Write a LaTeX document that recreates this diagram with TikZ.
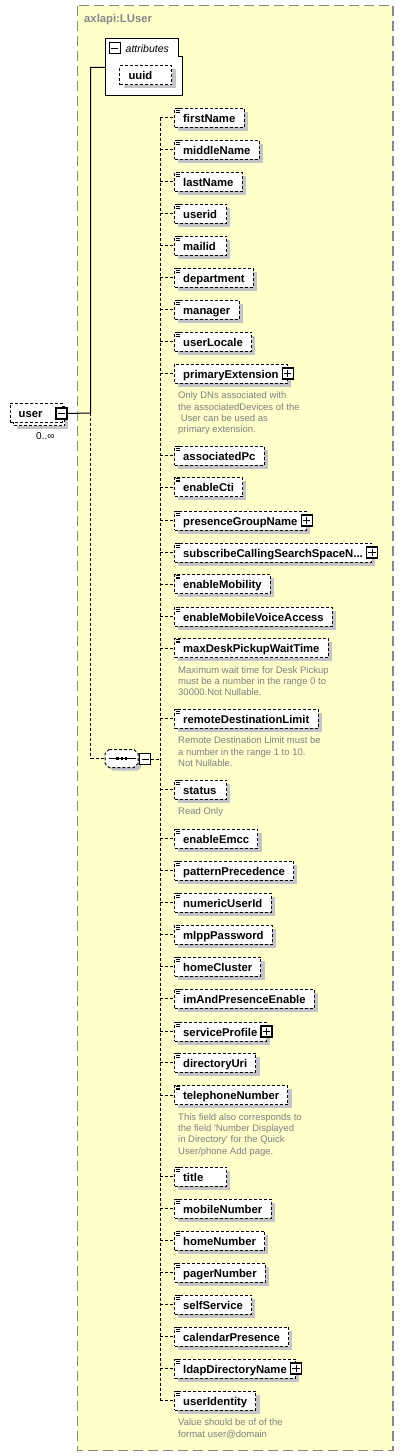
\documentclass[tikz,border=0pt]{standalone}
\usepackage{fontspec}
\setmainfont{Liberation Sans}
\newfontfamily\annfont{Liberation Sans}[Ligatures=TeXOff]
\usetikzlibrary{shadows}
\definecolor{bgyellow}{RGB}{255,255,204}
\definecolor{bordergray}{RGB}{136,136,136}
\definecolor{shadowc}{RGB}{196,196,200}
\definecolor{anngray}{RGB}{128,128,128}
\newcommand\minbox[1]{\setbox0\hbox{#1}\ifdim\wd0<34.6pt\hbox to 34.6pt{\box0\hfil}\else\box0\fi}
\tikzset{
  elembase/.style={draw=black, line width=1pt, dash pattern=on 3pt off 2pt, fill=white,
    minimum height=19pt, inner xsep=8.7pt, inner ysep=0pt,
    text height=9pt, text depth=0pt, anchor=west,
    font=\fontsize{11.3}{13}\selectfont\bfseries},
  elem/.style={elembase, general shadow={fill=shadowc, shadow xshift=3.7pt, shadow yshift=-3.7pt}},
  conn/.style={line width=1pt, dash pattern=on 3pt off 2pt},
  solidconn/.style={line width=1pt},
  ann/.style={anchor=north west, inner sep=0pt, align=left, text=anngray,
    font=\annfont\fontsize{9.5}{11.3}\selectfont},
  icon/.style={line width=0.8pt},
  boxbtn/.style={draw=black, fill=white, line width=1.1pt, minimum size=11pt, inner sep=0pt},
}
\newcommand\xicon[1]{\draw[icon] ([shift={(1.8,1.3)}]#1.north west) -- ++(4.5,0)
  ([shift={(1.8,3.0)}]#1.north west) -- ++(4.5,0)
  ([shift={(1.8,4.7)}]#1.north west) -- ++(4.5,0);}
\newcommand\pbtn[2]{\node[boxbtn] (#1) at (#2) {};
  \draw[line width=1pt] ([xshift=-3.6pt]#1.center) -- ([xshift=3.6pt]#1.center)
  ([yshift=-3.6pt]#1.center) -- ([yshift=3.6pt]#1.center);}
\newcommand\mbtn[2]{\node[boxbtn] (#1) at (#2) {};
  \draw[line width=1pt] ([xshift=-3.6pt]#1.center) -- ([xshift=3.6pt]#1.center);}
\newcommand\xel[3]{\node[elem] (#1) at (174,#2) {\minbox{#3}};
  \xicon{#1}
  \draw[conn] (#1.west -| bus) -- (#1.west);}
\newcommand\xelp[3]{\node[elem] (#1) at (174,#2) {#3\hspace{4pt}};
  \xicon{#1}
  \pbtn{#1-b}{#1.east}
  \draw[conn] (#1.west -| bus) -- (#1.west);}
\begin{document}
\begin{tikzpicture}[x=1pt,y=-1pt]
\useasboundingbox (0,0) rectangle (404,1456);
% container
\draw[bordergray, line width=1.5pt, dash pattern=on 10pt off 5pt, fill=bgyellow]
  (77.5,5.5) rectangle (393,1450.5);
\node[anchor=base west, inner sep=0pt, text=bordergray, font=\fontsize{11.3}{13}\selectfont\bfseries]
  (ctitle) at (84,23) {axlapi:LUser};
% junction coordinates
\coordinate (j1) at (90.7,413);
\coordinate (j2) at (90.7,67.3);
\coordinate (j3) at (90.7,758.5);
\coordinate (bus) at (160,117.5);
\coordinate (busend) at (160,1400.5);
% attributes box
\node[minimum width=77.4pt, minimum height=57.4pt, inner sep=0pt] (attrs) at (144,67) {};
\draw[line width=1pt, fill=white] (105.3,38.3) -- (178.3,38.3) -- (178.3,56.7) -- (182.7,56.7)
  -- (182.7,95.7) -- (105.3,95.7) -- cycle;
\mbtn{attrbtn}{114.7,48}
\node[anchor=base west, inner sep=0pt, font=\fontsize{10.5}{12}\selectfont\itshape] (attrlbl) at (125.5,52) {attributes};
\node[elem] (uuid) at (119.3,75) {\minbox{uuid}};
% user node
\fill[shadowc] (16.7,409.7) rectangle (68.2,429.2);
\draw[line width=1pt, dash pattern=on 3pt off 2pt, fill=white] (13,406) rectangle (64.5,425.5);
\node[elembase] (user) at (9.5,412.5) {\minbox{user}};
\mbtn{userbtn}{61.5,413.5}
\node[anchor=base west, inner sep=0pt, font=\fontsize{10}{12}\selectfont] (mult) at (36,439.5) {0..∞};
% main connectors
\draw[solidconn] (userbtn.east) -- (j1) -- (j2) -- (j2 -| attrs.west);
\draw[conn] (j1) -- (j3);
% sequence
\node[minimum width=33pt, minimum height=18pt, inner sep=0pt] (seq) at (121.5,758.5) {};
\fill[shadowc] (112.7,752.7) -- (137.7,752.7) -- (141.7,756.7) -- (141.7,766.7) -- (137.7,770.7)
  -- (112.7,770.7) -- (108.7,766.7) -- (108.7,756.7) -- cycle;
\draw[conn, fill=white] (109,749.5) -- (134,749.5) -- (138,753.5) -- (138,763.5) -- (134,767.5)
  -- (109,767.5) -- (105,763.5) -- (105,753.5) -- cycle;
\draw[line width=1pt] (108.5,758.5) -- (135.5,758.5);
\fill (116.4,757.2) rectangle ++(2.6,2.6);
\fill (120.6,757.2) rectangle ++(2.6,2.6);
\fill (124.8,757.2) rectangle ++(2.6,2.6);
\draw[conn] (j3) -- (seq.west);
\mbtn{seqbtn}{145.2,759}
\draw[conn] (seqbtn.east) -- (seqbtn.east -| bus);
\draw[conn] (bus) -- (busend);
% elements
\xel{firstName}{117.5}{firstName}
\xel{middleName}{149.5}{middleName}
\xel{lastName}{181.5}{lastName}
\xel{userid}{213.5}{userid}
\xel{mailid}{245.5}{mailid}
\xel{department}{277.5}{department}
\xel{manager}{309.5}{manager}
\xel{userLocale}{341.5}{userLocale}
\node[elem] (primaryExtension) at (174,373.5) {primaryExtension\hspace{4pt}};
\pbtn{primaryExtension-b}{primaryExtension.east}
\draw[conn] (primaryExtension.west -| bus) -- (primaryExtension.west);
\node[ann] (a-pe) at ([shift={(4,8.3)}]primaryExtension.south west)
  {Only DNs associated with\\the associatedDevices of the\\\hspace{2.6pt}User can be used as\\primary extension.};
\xel{associatedPc}{455.5}{associatedPc}
\xel{enableCti}{487}{enableCti}
\xelp{presenceGroupName}{520.5}{presenceGroupName}
\xelp{subscribeCSS}{552.5}{subscribeCallingSearchSpaceN...}
\xel{enableMobility}{584}{enableMobility}
\xel{enableMobileVoiceAccess}{616.5}{enableMobileVoiceAccess}
\xel{maxDeskPickupWaitTime}{648}{maxDeskPickupWaitTime}
\node[ann] (a-md) at ([shift={(4,8.3)}]maxDeskPickupWaitTime.south west)
  {Maximum wait time for Desk Pickup\\must be a number in the range 0 to\\30000.Not Nullable.};
\xel{remoteDestinationLimit}{718.5}{remoteDestinationLimit}
\node[ann] (a-rd) at ([shift={(4,8.3)}]remoteDestinationLimit.south west)
  {Remote Destination Limit must be\\a number in the range 1 to 10.\\Not Nullable.};
\xel{status}{789.5}{status}
\node[ann] (a-st) at ([shift={(4,8.3)}]status.south west) {Read Only};
\xel{enableEmcc}{838.5}{enableEmcc}
\xel{patternPrecedence}{870.5}{patternPrecedence}
\xel{numericUserId}{902.5}{numericUserId}
\xel{mlppPassword}{934.5}{mlppPassword}
\xel{homeCluster}{966.5}{homeCluster}
\xel{imAndPresenceEnable}{998.5}{imAndPresenceEnable}
\xelp{serviceProfile}{1031.5}{serviceProfile}
\xel{directoryUri}{1062.5}{directoryUri}
\xel{telephoneNumber}{1095}{telephoneNumber}
\node[ann] (a-tn) at ([shift={(4,8.3)}]telephoneNumber.south west)
  {This field also corresponds to\\the field 'Number Displayed\\in Directory' for the Quick\\User/phone Add page.};
\xel{title}{1176.5}{title}
\xel{mobileNumber}{1208.5}{mobileNumber}
\xel{homeNumber}{1240.5}{homeNumber}
\xel{pagerNumber}{1272.5}{pagerNumber}
\xel{selfService}{1304.5}{selfService}
\xel{calendarPresence}{1336.5}{calendarPresence}
\xelp{ldapDirectoryName}{1368.5}{ldapDirectoryName}
\xel{userIdentity}{1400.5}{userIdentity}
\node[ann] (a-ui) at ([shift={(4,8.3)}]userIdentity.south west)
  {Value should be of of the\\format user@domain};
\end{tikzpicture}
\end{document}
